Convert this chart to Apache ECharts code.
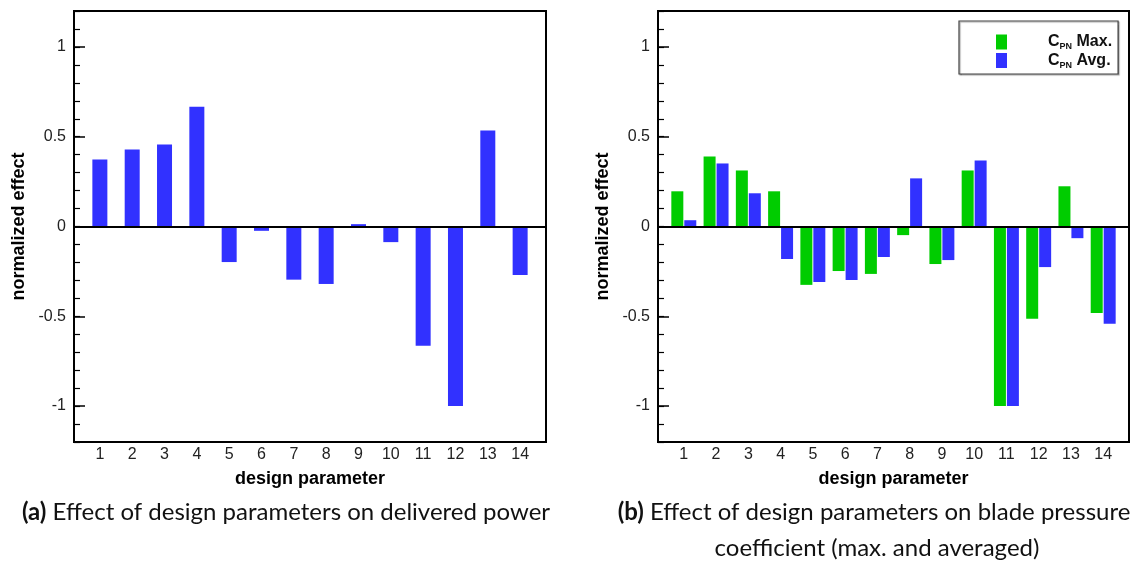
<!DOCTYPE html>
<html>
<head>
<meta charset="utf-8">
<script src="https://cdn.jsdelivr.net/npm/echarts@6/dist/echarts.min.js"></script>
<style>
html,body{margin:0;padding:0;background:#fff;}
#chart{width:1138px;height:562px;}
</style>
</head>
<body>
<div id="chart"></div>
<script>
// ---- data ----
const categories = [1, 2, 3, 4, 5, 6, 7, 8, 9, 10, 11, 12, 13, 14];
const powerEffect = [0.373, 0.429, 0.457, 0.667, -0.198, -0.024, -0.296, -0.320, 0.013, -0.087, -0.664, -1.0, 0.534, -0.270];
const cpnMax = [0.196, 0.390, 0.312, 0.196, -0.325, -0.248, -0.264, -0.048, -0.209, 0.312, -1.0, -0.514, 0.224, -0.481];
const cpnAvg = [0.035, 0.351, 0.185, -0.181, -0.309, -0.298, -0.170, 0.268, -0.187, 0.368, -1.0, -0.226, -0.065, -0.542];
const yTickValues = [-1, -0.5, 0, 0.5, 1];
const xTitle = 'design parameter';
const yTitle = 'normalized effect';
const seriesNames = ['CPN Max.', 'CPN Avg.'];
const captionA = ['(a)', ' Effect of design parameters on delivered power'];
const captionB = ['(b)', ' Effect of design parameters on blade pressure', 'coefficient (max. and averaged)'];

const BLUE = '#3131ff';
const GREEN = '#00cc00';
const FONT = 'Liberation Sans, Arial, sans-serif';
const CAPFONT = 'Lato, sans-serif';
const pairs = vals => categories.map((c, i) => [c, vals[i]]);

const chart = echarts.init(document.getElementById('chart'), null, {renderer: 'canvas'});

const grids = [
  {left: 74, top: 11, width: 472, height: 431, show: true, borderColor: '#000', borderWidth: 2, backgroundColor: 'transparent'},
  {left: 658, top: 11, width: 471, height: 431, show: true, borderColor: '#000', borderWidth: 2, backgroundColor: 'transparent'}
];

function xAxisFor(gi) {
  return {
    type: 'value', gridIndex: gi, min: 0.2, max: 14.8,
    name: xTitle, nameLocation: 'middle', nameGap: 28,
    nameTextStyle: {fontFamily: FONT, fontWeight: 'bold', fontSize: 18, color: '#000'},
    axisLine: {show: false}, axisTick: {show: false}, splitLine: {show: false},
    axisLabel: {customValues: categories, fontFamily: FONT, fontSize: 16, color: '#222', margin: 5}
  };
}
function yMajor(gi) {
  return {
    type: 'value', gridIndex: gi, min: -1.2, max: 1.2, position: 'left',
    name: yTitle, nameLocation: 'middle', nameGap: 46, nameRotate: 90,
    nameTextStyle: {fontFamily: FONT, fontWeight: 'bold', fontSize: 18, color: '#000'},
    axisLine: {show: false}, splitLine: {show: false},
    axisTick: {show: true, inside: true, length: 11, customValues: yTickValues, lineStyle: {color: '#000', width: 1.5}},
    axisLabel: {customValues: yTickValues, fontFamily: FONT, fontSize: 16, color: '#222', margin: 8,
      formatter: v => String(Math.round(v * 10) / 10)}
  };
}
function yMinor(gi) {
  return {
    type: 'value', gridIndex: gi, min: -1.2, max: 1.2, interval: 0.1, position: 'left',
    axisLine: {show: false}, splitLine: {show: false}, axisLabel: {show: false},
    axisTick: {show: true, inside: true, length: 6, lineStyle: {color: '#000', width: 1.2}}
  };
}
const zeroLine = {
  silent: true, symbol: 'none', label: {show: false},
  lineStyle: {color: '#000', width: 2, type: 'solid'},
  data: [{yAxis: 0}]
};

const option = {
  animation: false,
  backgroundColor: '#fff',
  grid: grids,
  xAxis: [xAxisFor(0), xAxisFor(1)],
  yAxis: [yMajor(0), yMinor(0), yMajor(1), yMinor(1)],
  legend: {
    show: true, orient: 'vertical', left: 959, top: 21,
    data: seriesNames,
    backgroundColor: '#fff', borderColor: '#444', borderWidth: 1.2,
    shadowColor: 'rgba(0,0,0,0.35)', shadowOffsetX: 1, shadowOffsetY: 1, shadowBlur: 1,
    padding: [13, 6, 4, 37], itemGap: 1, itemWidth: 11, itemHeight: 15,
    icon: 'rect', selectedMode: false,
    formatter: name => '{sp| }{c|C}{s|PN}{c| ' + name.slice(4) + '}',
    textStyle: {
      rich: {
        sp: {width: 36},
        c: {fontFamily: FONT, fontWeight: 'bold', fontSize: 16, color: '#111', lineHeight: 19},
        s: {fontFamily: FONT, fontWeight: 'bold', fontSize: 9, color: '#111', lineHeight: 19, verticalAlign: 'bottom'}
      }
    }
  },
  series: [
    {type: 'bar', name: 'power', xAxisIndex: 0, yAxisIndex: 0, data: pairs(powerEffect), barWidth: 15,
      itemStyle: {color: BLUE}, markLine: zeroLine, z: 2},
    {type: 'bar', name: seriesNames[0], xAxisIndex: 1, yAxisIndex: 2, data: pairs(cpnMax), barWidth: 12, barGap: '8%',
      itemStyle: {color: GREEN}, markLine: zeroLine, z: 2},
    {type: 'bar', name: seriesNames[1], xAxisIndex: 1, yAxisIndex: 2, data: pairs(cpnAvg), barWidth: 12, barGap: '8%',
      itemStyle: {color: BLUE}, z: 2}
  ],
  graphic: [
    {type: 'text', x: 286, y: 512, style: {
      text: '{b|' + captionA[0] + '}{r|' + captionA[1] + '}', align: 'center', verticalAlign: 'middle',
      rich: {b: {fontFamily: CAPFONT, fontWeight: 'bold', fontSize: 24, fill: '#111'},
             r: {fontFamily: CAPFONT, fontSize: 24, fill: '#111'}}}},
    {type: 'text', x: 874, y: 512, style: {
      text: '{b|' + captionB[0] + '}{r|' + captionB[1] + '}', align: 'center', verticalAlign: 'middle',
      rich: {b: {fontFamily: CAPFONT, fontWeight: 'bold', fontSize: 24, fill: '#111'},
             r: {fontFamily: CAPFONT, fontSize: 24, fill: '#111'}}}},
    {type: 'text', x: 877, y: 548, style: {
      text: captionB[2], align: 'center', verticalAlign: 'middle',
      fontFamily: CAPFONT, fontSize: 24, fill: '#111'}}
  ]
};
chart.setOption(option);
</script>
</body>
</html>
